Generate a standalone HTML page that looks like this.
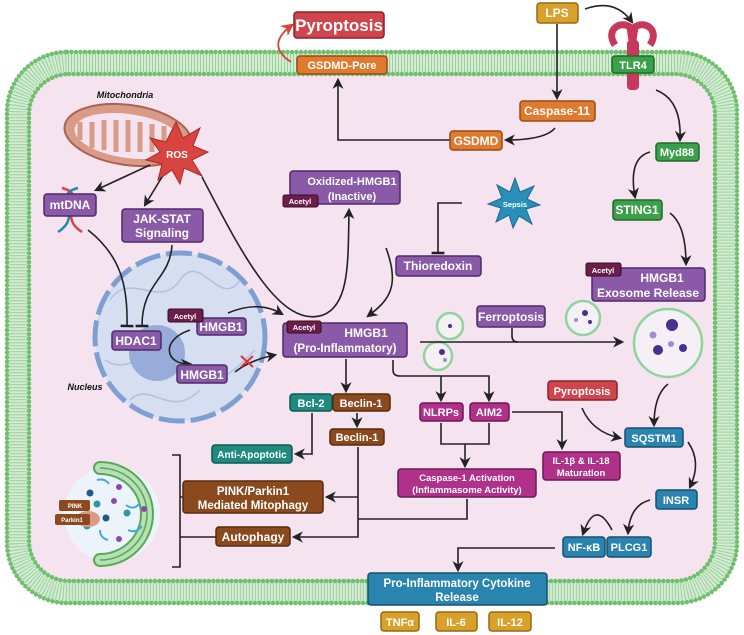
<!DOCTYPE html>
<html><head><meta charset="utf-8"><style>
html,body{margin:0;padding:0;background:#fff}
svg{display:block}
text{font-family:"Liberation Sans",sans-serif;font-weight:bold;fill:#fff;text-anchor:middle}
</style></head><body>
<svg width="744" height="635" viewBox="0 0 744 635" xmlns="http://www.w3.org/2000/svg">
<defs>
<marker id="a" viewBox="0 0 10 10" refX="8" refY="5" markerWidth="7" markerHeight="7" orient="auto"><path d="M0,0 L10,5 L0,10 L3,5z" fill="#222"/></marker>
<marker id="ar" viewBox="0 0 10 10" refX="8" refY="5" markerWidth="7" markerHeight="7" orient="auto"><path d="M0,0 L10,5 L0,10 L3,5z" fill="#d9443f"/></marker>
<marker id="t" viewBox="0 0 10 10" refX="5" refY="5" markerWidth="8" markerHeight="8" orient="auto"><path d="M5,0 L5,10" stroke="#222" stroke-width="2"/></marker>
</defs>
<!-- membrane -->
<rect x="18" y="63" width="708" height="529" rx="50" fill="#f5e4ef" stroke="#d3ecd3" stroke-width="22"/>
<rect x="18" y="63" width="708" height="529" rx="50" fill="none" stroke="#9ccf9c" stroke-width="18" stroke-dasharray="1 2"/>
<rect x="7" y="52" width="730" height="551" rx="60" fill="none" stroke="#6fbf6f" stroke-width="4.5" stroke-dasharray="0 4.5" stroke-linecap="round"/>
<rect x="29" y="74" width="686" height="507" rx="40" fill="none" stroke="#6fbf6f" stroke-width="4.5" stroke-dasharray="0 4.5" stroke-linecap="round"/>

<!-- mitochondria -->
<ellipse cx="128" cy="135" rx="64" ry="30" transform="rotate(8 128 135)" fill="#d99a88" stroke="#a86452" stroke-width="2"/>
<ellipse cx="128" cy="136" rx="54" ry="22" transform="rotate(8 128 136)" fill="#f5e4ef"/>
<path d="M80,140 v-18 M92,148 v-26 M104,150 v-30 M116,152 v-32 M128,152 v-32 M140,152 v-30 M152,152 v-28 M164,150 v-24" stroke="#d99a88" stroke-width="5"/>
<text x="125" y="98" style="font-style:italic;fill:#111;font-size:9px">Mitochondria</text>
<!-- ROS star -->
<polygon points="176,122 183,138 200,128 193,146 208,152 192,160 202,176 184,168 180,184 172,170 158,180 162,164 146,160 160,152 150,138 166,142" fill="#d9443f" stroke="#a82a2a"/>
<text x="177" y="158" font-size="10">ROS</text>
<!-- DNA helix -->
<path d="M62,188 C90,195 55,215 82,232" stroke="#d9443f" stroke-width="2.5" fill="none"/>
<path d="M78,188 C50,195 85,215 58,232" stroke="#2a84b0" stroke-width="2.5" fill="none"/>
<!-- nucleus -->
<ellipse cx="180" cy="337" rx="85" ry="84" fill="#d6dff1" stroke="#7f9fd3" stroke-width="5" stroke-dasharray="26 6"/>
<path d="M110,300 c20,-30 50,10 70,-20 s40,30 60,0 M105,360 c30,20 50,-30 80,0 s40,20 70,-10 M130,400 c20,-20 40,20 70,-10" stroke="#b0c0e3" fill="none" stroke-width="1.5"/>
<circle cx="157" cy="353" r="28" fill="#98acdc"/>
<text x="85" y="390" style="font-style:italic;fill:#111;font-size:9px">Nucleus</text>
<!-- autophagosome -->
<circle cx="112" cy="514" r="48" fill="#edf3fb"/>
<path d="M100,468 A47,46 0 1 1 100,560" fill="none" stroke="#58a85a" stroke-width="14" stroke-linecap="round"/>
<path d="M100,468 A47,46 0 1 1 100,560" fill="none" stroke="#b7e0b4" stroke-width="10" stroke-linecap="round"/>
<path d="M100,468 A47,46 0 1 1 100,560" fill="none" stroke="#58a85a" stroke-width="1.5"/>
<g fill="#1a5b8c"><circle cx="90" cy="493" r="3.5"/><circle cx="106" cy="518" r="3.5"/></g>
<g fill="#2a9a9a"><circle cx="97" cy="504" r="3.5"/><circle cx="127" cy="513" r="3.5"/><circle cx="87" cy="526" r="3.5"/></g>
<g fill="#8a4aa8"><circle cx="119" cy="487" r="3"/><circle cx="114" cy="501" r="3"/><circle cx="144" cy="509" r="3"/><circle cx="119" cy="539" r="3"/></g>
<path d="M97,480 q8,-2 12,4 M126,505 q8,6 14,-2 M128,530 q8,4 14,-4 M100,530 q0,8 8,10" stroke="#38aede" stroke-width="2" fill="none"/>
<ellipse cx="88" cy="519" rx="12" ry="8" fill="#d99a88"/>
<rect x="59" y="500" width="31" height="11" rx="2" fill="#8b4a1e"/><text x="75" y="508" font-size="6">PINK</text>
<rect x="55" y="514" width="35" height="11" rx="2" fill="#8b4a1e"/><text x="72" y="522" font-size="6">Parkin1</text>
<!-- vesicles -->
<g fill="#f4f0f6" stroke="#8fd49a" stroke-width="2.5">
<circle cx="450" cy="326" r="13"/><circle cx="583" cy="318" r="17"/><circle cx="438" cy="356" r="14"/><circle cx="668" cy="343" r="34"/></g>
<g fill="#4a2f8f"><circle cx="450" cy="326" r="2"/><circle cx="585" cy="313" r="3"/><circle cx="590" cy="322" r="2"/><circle cx="442" cy="352" r="3"/><circle cx="672" cy="325" r="6"/><circle cx="658" cy="350" r="5"/><circle cx="683" cy="348" r="4"/></g>
<g fill="#9e8dd0"><circle cx="653" cy="335" r="3.5"/><circle cx="671" cy="344" r="3"/><circle cx="445" cy="360" r="2"/><circle cx="576" cy="320" r="2"/></g>
<!-- TLR4 receptor -->
<path d="M615,45 c-10,-15 5,-25 15,-18 l3,20 M650,45 c10,-15 -5,-25 -15,-18 l-3,20" stroke="#c8385a" stroke-width="7" fill="none"/>
<rect x="627" y="40" width="12" height="50" rx="4" fill="#c8385a"/>
<!-- Sepsis star -->
<polygon points="515,178 520,192 534,186 527,199 540,205 526,209 532,224 519,216 513,228 509,215 496,222 501,208 488,204 502,198 497,185 510,192" fill="#2a8fb8" stroke="#1a6a90"/>
<text x="515" y="207" font-size="7.5">Sepsis</text>

<!-- connectors -->
<g stroke="#222" stroke-width="1.6" fill="none">
<path d="M450,140 L338,140 L338,80" marker-end="url(#a)"/>
<path d="M557,24 L557,98" marker-end="url(#a)"/>
<path d="M585,9 Q615,-2 632,22" marker-end="url(#a)"/>
<path d="M555,128 Q545,140 506,140" marker-end="url(#a)"/>
<path d="M656,90 Q682,100 680,140" marker-end="url(#a)"/>
<path d="M650,152 Q628,158 635,197" marker-end="url(#a)"/>
<path d="M670,213 Q686,225 686,264" marker-end="url(#a)"/>
<path d="M150,165 L96,190" marker-end="url(#a)"/>
<path d="M162,177 L145,205" marker-end="url(#a)"/>
<path d="M202,177 C240,250 280,330 323,315 C350,305 348,260 349,210" marker-end="url(#a)"/>
<path d="M88,230 C120,255 128,285 127,326" marker-end="url(#t)"/>
<path d="M172,245 C170,280 142,282 142,326" marker-end="url(#t)"/>
<path d="M228,313 Q258,300 282,314" marker-end="url(#a)"/>
<path d="M190,330 C160,340 165,365 190,364" marker-end="url(#a)"/>
<path d="M235,372 Q250,360 275,355" marker-end="url(#a)"/>
<path d="M386,248 C400,285 390,300 368,316" marker-end="url(#a)"/>
<path d="M462,203 L438,203 L438,253" marker-end="url(#t)"/>
<path d="M420,342 L622,342" marker-end="url(#a)"/>
<path d="M512,328 L512,336 Q512,342 518,342"/>
<path d="M346,359 L346,391" marker-end="url(#a)"/>
<path d="M393,360 L393,370 Q393,376 400,376 L489,376 L489,400" marker-end="url(#a)"/>
<path d="M441,376 L441,400" marker-end="url(#a)"/>
<path d="M357,413 L357,426" marker-end="url(#a)"/>
<path d="M312,413 L312,454 L296,454" marker-end="url(#a)"/>
<path d="M358,447 L358,537 L294,537" marker-end="url(#a)"/>
<path d="M358,497 L327,497" marker-end="url(#a)"/>
<path d="M467,499 L467,519 L358,519"/>
<path d="M441,423 L441,444 L489,444 L489,423 M465,444 L465,466" marker-end="url(#a)"/>
<path d="M512,412 L562,412 L562,448" marker-end="url(#a)"/>
<path d="M582,408 Q592,432 620,438" marker-end="url(#a)"/>
<path d="M668,384 Q654,395 654,425" marker-end="url(#a)"/>
<path d="M688,442 Q702,462 690,487" marker-end="url(#a)"/>
<path d="M650,500 Q630,505 628,533" marker-end="url(#a)"/>
<path d="M612,530 Q595,498 583,534" marker-end="url(#a)"/>
<path d="M555,548 L458,548 L458,570" marker-end="url(#a)"/>
<path d="M172,455 L180,455 L180,567 L172,567 M180,497 L183,497 M180,537 L216,537"/>
</g>
<path d="M291,62 Q265,45 292,25" stroke="#d9443f" stroke-width="1.8" fill="none" marker-end="url(#ar)"/>
<path d="M241,356 L253,367 M253,356 L241,367" stroke="#e53030" stroke-width="2"/>

<!-- boxes -->
<g stroke-width="1.5">
<rect x="294" y="12" width="90" height="26" rx="3" fill="#d0454c" stroke="#8a2030"/>
<rect x="297" y="56" width="90" height="18" rx="3" fill="#e07a2e" stroke="#9a4a14"/>
<rect x="537" y="3" width="41" height="20" rx="3" fill="#d9a02a" stroke="#946a12"/>
<rect x="612" y="56" width="42" height="17" rx="3" fill="#3aa04a" stroke="#1f6a2a"/>
<rect x="520" y="101" width="75" height="20" rx="3" fill="#e07a2e" stroke="#9a4a14"/>
<rect x="450" y="131" width="52" height="19" rx="3" fill="#e07a2e" stroke="#9a4a14"/>
<rect x="656" y="143" width="43" height="18" rx="3" fill="#3aa04a" stroke="#1f6a2a"/>
<rect x="613" y="200" width="49" height="20" rx="3" fill="#3aa04a" stroke="#1f6a2a"/>
<rect x="290" y="171" width="110" height="33" rx="3" fill="#8a5aa8" stroke="#4f2a6a"/>
<rect x="396" y="256" width="85" height="20" rx="3" fill="#8a5aa8" stroke="#4f2a6a"/>
<rect x="592" y="268" width="113" height="33" rx="3" fill="#8a5aa8" stroke="#4f2a6a"/>
<rect x="477" y="306" width="68" height="21" rx="3" fill="#8a5aa8" stroke="#4f2a6a"/>
<rect x="44" y="194" width="52" height="22" rx="3" fill="#8a5aa8" stroke="#4f2a6a"/>
<rect x="122" y="209" width="81" height="33" rx="3" fill="#8a5aa8" stroke="#4f2a6a"/>
<rect x="112" y="331" width="49" height="19" rx="3" fill="#8a5aa8" stroke="#4f2a6a"/>
<rect x="197" y="318" width="49" height="17" rx="3" fill="#8a5aa8" stroke="#4f2a6a"/>
<rect x="177" y="365" width="50" height="18" rx="3" fill="#8a5aa8" stroke="#4f2a6a"/>
<rect x="283" y="323" width="124" height="34" rx="3" fill="#8a5aa8" stroke="#4f2a6a"/>
<rect x="290" y="394" width="42" height="17" rx="3" fill="#1f8a80" stroke="#0f5a52"/>
<rect x="333" y="394" width="57" height="17" rx="3" fill="#8b4a1e" stroke="#5a2a0a"/>
<rect x="330" y="429" width="54" height="16" rx="3" fill="#8b4a1e" stroke="#5a2a0a"/>
<rect x="212" y="445" width="80" height="18" rx="3" fill="#1f8a80" stroke="#0f5a52"/>
<rect x="183" y="481" width="140" height="32" rx="3" fill="#8b4a1e" stroke="#5a2a0a"/>
<rect x="216" y="527" width="74" height="19" rx="3" fill="#8b4a1e" stroke="#5a2a0a"/>
<rect x="420" y="403" width="43" height="18" rx="3" fill="#b0308a" stroke="#6a1a52"/>
<rect x="470" y="403" width="39" height="18" rx="3" fill="#b0308a" stroke="#6a1a52"/>
<rect x="398" y="469" width="138" height="28" rx="3" fill="#b0308a" stroke="#6a1a52"/>
<rect x="543" y="452" width="77" height="28" rx="3" fill="#b0308a" stroke="#6a1a52"/>
<rect x="548" y="381" width="69" height="19" rx="3" fill="#d0454c" stroke="#8a2030"/>
<rect x="625" y="428" width="58" height="19" rx="3" fill="#2a84b0" stroke="#14506e"/>
<rect x="656" y="490" width="41" height="19" rx="3" fill="#2a84b0" stroke="#14506e"/>
<rect x="563" y="537" width="42" height="20" rx="3" fill="#2a84b0" stroke="#14506e"/>
<rect x="607" y="537" width="44" height="20" rx="3" fill="#2a84b0" stroke="#14506e"/>
<rect x="368" y="573" width="179" height="32" rx="3" fill="#2a84b0" stroke="#14506e"/>
<rect x="381" y="612" width="38" height="19" rx="3" fill="#d9a02a" stroke="#946a12"/>
<rect x="436" y="612" width="41" height="19" rx="3" fill="#d9a02a" stroke="#946a12"/>
<rect x="489" y="612" width="42" height="19" rx="3" fill="#d9a02a" stroke="#946a12"/>
</g>
<!-- acetyl tags -->
<g fill="#6b1e4a" stroke="#3a0a26">
<rect x="283" y="195" width="35" height="12" rx="2"/>
<rect x="586" y="263" width="35" height="13" rx="2"/>
<rect x="168" y="309" width="35" height="13" rx="2"/>
<rect x="287" y="321" width="34" height="12" rx="2"/>
</g>
<g font-size="7.5">
<text x="300" y="204">Acetyl</text><text x="603" y="273">Acetyl</text><text x="185" y="319">Acetyl</text><text x="304" y="330">Acetyl</text>
</g>
<!-- labels -->
<g font-size="12">
<text x="339" y="31" font-size="17">Pyroptosis</text>
<text x="342" y="69" font-size="11">GSDMD-Pore</text>
<text x="557" y="17">LPS</text>
<text x="633" y="69" font-size="11">TLR4</text>
<text x="557" y="115">Caspase-11</text>
<text x="476" y="145">GSDMD</text>
<text x="677" y="156" font-size="11">Myd88</text>
<text x="637" y="214">STING1</text>
<text x="352" y="185" font-size="11">Oxidized-HMGB1</text>
<text x="352" y="200" font-size="11">(Inactive)</text>
<text x="438" y="270">Thioredoxin</text>
<text x="662" y="282">HMGB1</text>
<text x="648" y="297">Exosome Release</text>
<text x="511" y="321">Ferroptosis</text>
<text x="70" y="209">mtDNA</text>
<text x="162" y="223">JAK-STAT</text>
<text x="162" y="237">Signaling</text>
<text x="136" y="345">HDAC1</text>
<text x="221" y="331">HMGB1</text>
<text x="202" y="379">HMGB1</text>
<text x="366" y="337">HMGB1</text>
<text x="345" y="352" font-size="11.5">(Pro-Inflammatory)</text>
<text x="311" y="407" font-size="11">Bcl-2</text>
<text x="361" y="407" font-size="11">Beclin-1</text>
<text x="357" y="441" font-size="11">Beclin-1</text>
<text x="252" y="458" font-size="10">Anti-Apoptotic</text>
<text x="253" y="495" font-size="11.5">PINK/Parkin1</text>
<text x="253" y="509" font-size="11.5">Mediated Mitophagy</text>
<text x="253" y="541">Autophagy</text>
<text x="441" y="416" font-size="11">NLRPs</text>
<text x="489" y="416" font-size="11">AIM2</text>
<text x="467" y="481" font-size="9.5">Caspase-1 Activation</text>
<text x="467" y="493" font-size="9.5">(Inflammasome Activity)</text>
<text x="581" y="464" font-size="9.5">IL-1β &amp; IL-18</text>
<text x="581" y="476" font-size="9.5">Maturation</text>
<text x="582" y="395" font-size="11">Pyroptosis</text>
<text x="654" y="442" font-size="11">SQSTM1</text>
<text x="676" y="504" font-size="11">INSR</text>
<text x="584" y="551" font-size="11">NF-κB</text>
<text x="629" y="551" font-size="11">PLCG1</text>
<text x="457" y="587" font-size="11.5">Pro-Inflammatory Cytokine</text>
<text x="457" y="601" font-size="11.5">Release</text>
<text x="400" y="626" font-size="11">TNFα</text>
<text x="456" y="626" font-size="11">IL-6</text>
<text x="510" y="626" font-size="11">IL-12</text>
</g>
</svg>
</body></html>
